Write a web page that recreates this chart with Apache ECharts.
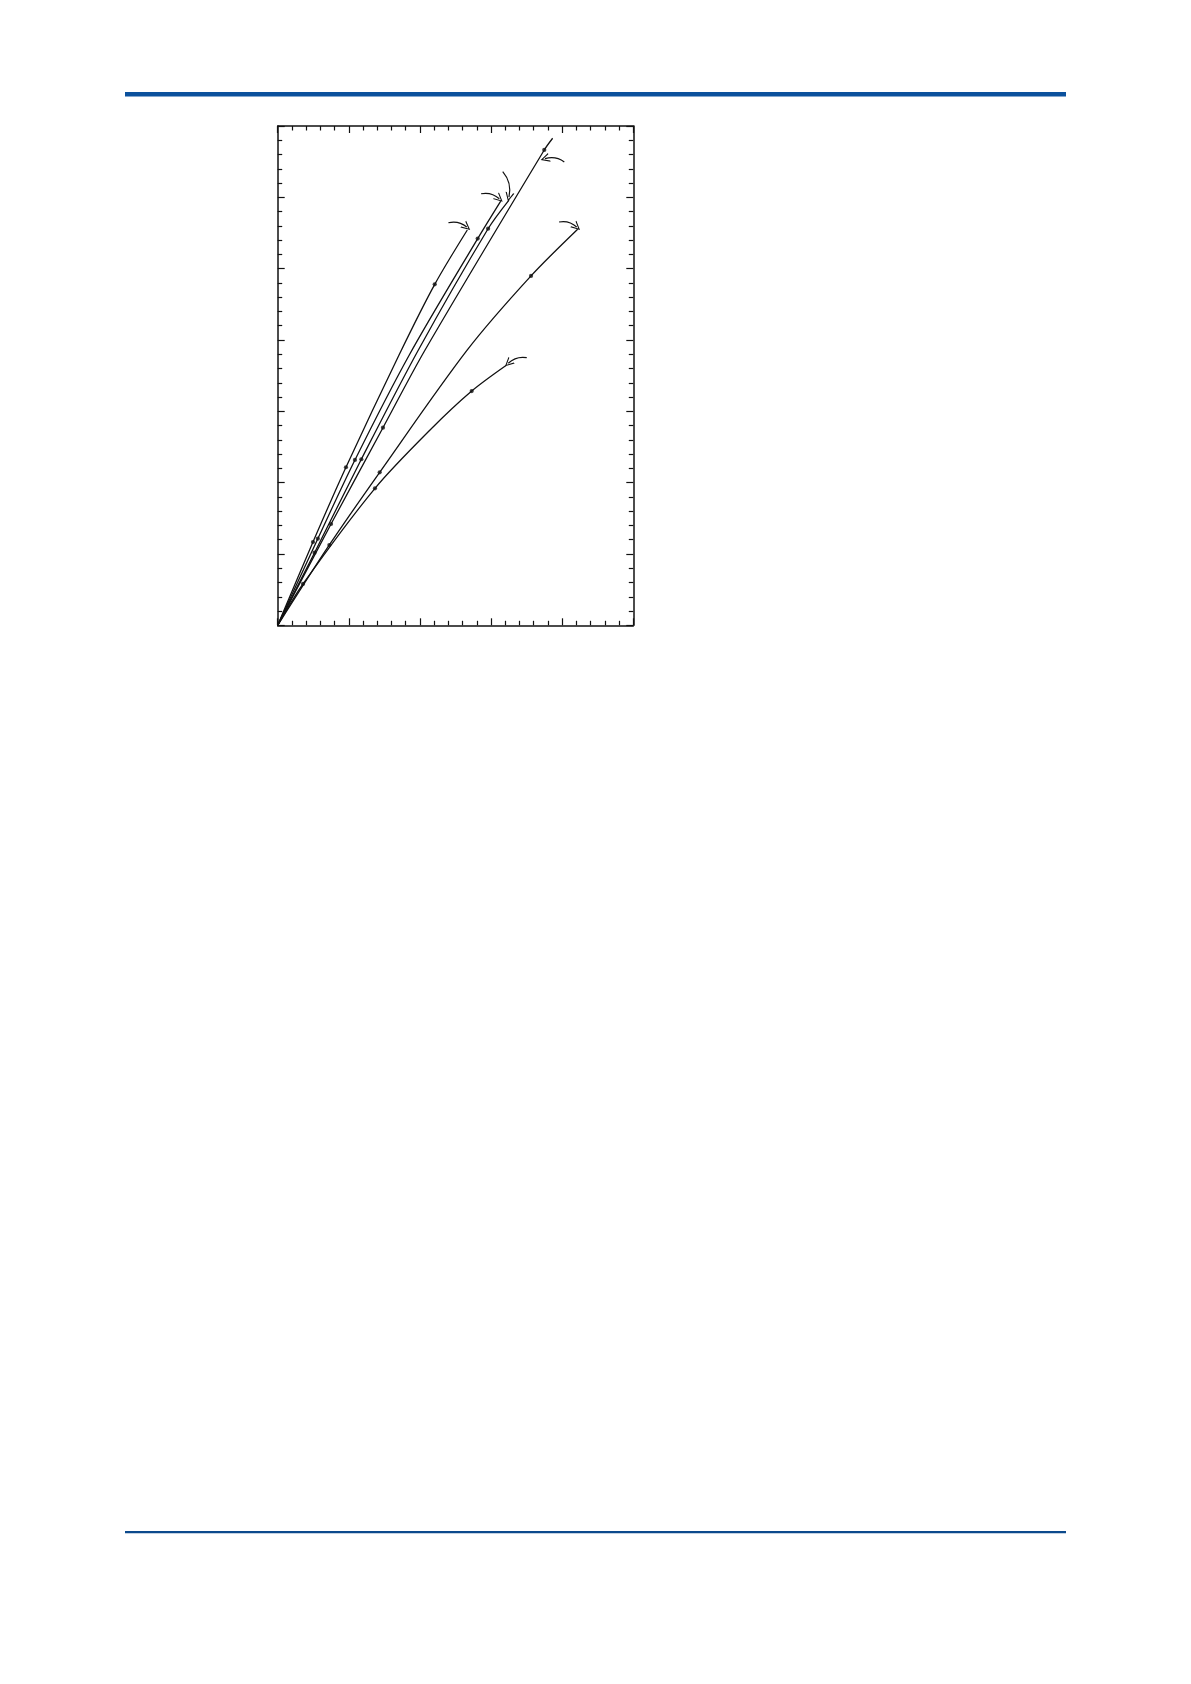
<!DOCTYPE html>
<html>
<head>
<meta charset="utf-8">
<script src="https://cdn.jsdelivr.net/npm/echarts@6/dist/echarts.min.js"></script>
<style>
html,body{margin:0;padding:0;background:#fff;}
#chart{width:1191px;height:1684px;}
</style>
</head>
<body>
<div id="chart"></div>
<script>
// Axis ranges (no labels in the reference; units = minor tick steps)
const xRange = [0, 25];
const yRange = [0, 35];

// Curves: origin, dot, dot, read-off mid point, dot, end point
const curveA = [[0,0],[2.48,5.84],[4.80,11.08],[8.53,18.95],[11.04,23.90],[13.33,27.71]];
const curveB = [[0,0],[2.82,6.07],[5.43,11.59],[9.25,18.95],[14.06,27.11],[15.68,29.74]];
const curveC = [[0,0],[2.59,5.09],[5.88,11.64],[9.89,19.30],[14.79,27.80],[16.26,29.81]];
const curveD = [[0,0],[3.75,7.10],[7.40,13.85],[10.36,19.30],[18.74,33.32],[19.33,34.14]];
const curveE = [[0,0],[3.63,5.63],[7.17,10.72],[13.33,19.30],[17.81,24.49],[21.09,27.76]];
const curveF = [[0,0],[1.78,2.90],[6.84,9.60],[10.71,13.69],[13.64,16.42],[16.05,18.21]];
const curves = [curveA, curveB, curveC, curveD, curveE, curveF];
// which points of each curve carry a dot marker
const dotIndex = [1, 2, 4];

// Hand-drawn pointer arrows: tail, tip, bend
const arrowTails = [[12.00,28.22],[14.30,30.25],[15.82,31.80],[20.15,32.48],[19.78,28.27],[17.51,18.76]];
const arrowTips  = [[13.29,27.92],[15.58,29.90],[16.26,30.02],[18.79,32.71],[21.02,27.92],[16.21,18.37]];
const arrowBends = [0.25, 0.25, 0.25, -0.25, 0.25, -0.25];

const chart = echarts.init(document.getElementById('chart'), null, {renderer:'canvas'});
const ink = '#111';

function xAx(pos){
  return {
    type:'value', position:pos, min:xRange[0], max:xRange[1], interval:5,
    axisLine:{show:true, onZero:false, lineStyle:{color:ink, width:1.5}},
    axisTick:{show:true, inside:true, length:7, lineStyle:{color:ink, width:1.2}},
    minorTick:{show:true, splitNumber:5, length:4.5, lineStyle:{color:ink, width:1.2}},
    axisLabel:{show:false}, splitLine:{show:false}, minorSplitLine:{show:false}
  };
}
function yAx(pos){
  return {
    type:'value', position:pos, min:yRange[0], max:yRange[1], interval:5,
    axisLine:{show:true, onZero:false, lineStyle:{color:ink, width:1.5}},
    axisTick:{show:true, inside:true, length:7, lineStyle:{color:ink, width:1.2}},
    minorTick:{show:true, splitNumber:5, length:4.5, lineStyle:{color:ink, width:1.2}},
    axisLabel:{show:false}, splitLine:{show:false}, minorSplitLine:{show:false}
  };
}

const series = [];
curves.forEach(function(c){
  series.push({
    type:'line', data:c, smooth:0.3,
    showSymbol:false, symbol:'none', silent:true,
    lineStyle:{color:ink, width:1.3}, z:3
  });
  series.push({
    type:'scatter', data:dotIndex.map(function(k){ return c[k]; }),
    symbol:'circle', symbolSize:4.2,
    itemStyle:{color:ink}, silent:true, z:4
  });
});

series.push({
  type:'lines', coordinateSystem:'cartesian2d', silent:true, z:5,
  symbol:['none','path://M5,0 L10,10 L8.6,10 L5,2.6 L1.4,10 L0,10 Z'],
  symbolSize:[9,9],
  data: arrowTails.map(function(t,i){
    return {coords:[t, arrowTips[i]], lineStyle:{curveness:arrowBends[i]}};
  }),
  lineStyle:{color:ink, width:1.2, opacity:1}
});

chart.setOption({
  animation:false,
  backgroundColor:'#fff',
  grid:{left:277.7, top:126, width:355.6, height:499.3, containLabel:false},
  xAxis:[xAx('bottom'), xAx('top')],
  yAxis:[yAx('left'), yAx('right')],
  graphic:[
    {type:'rect', shape:{x:125, y:92, width:941, height:4.5}, style:{fill:'#0b519d'}},
    {type:'rect', shape:{x:125, y:1531, width:941, height:2.2}, style:{fill:'#0c4a8c'}}
  ],
  series:series
});
</script>
</body>
</html>
